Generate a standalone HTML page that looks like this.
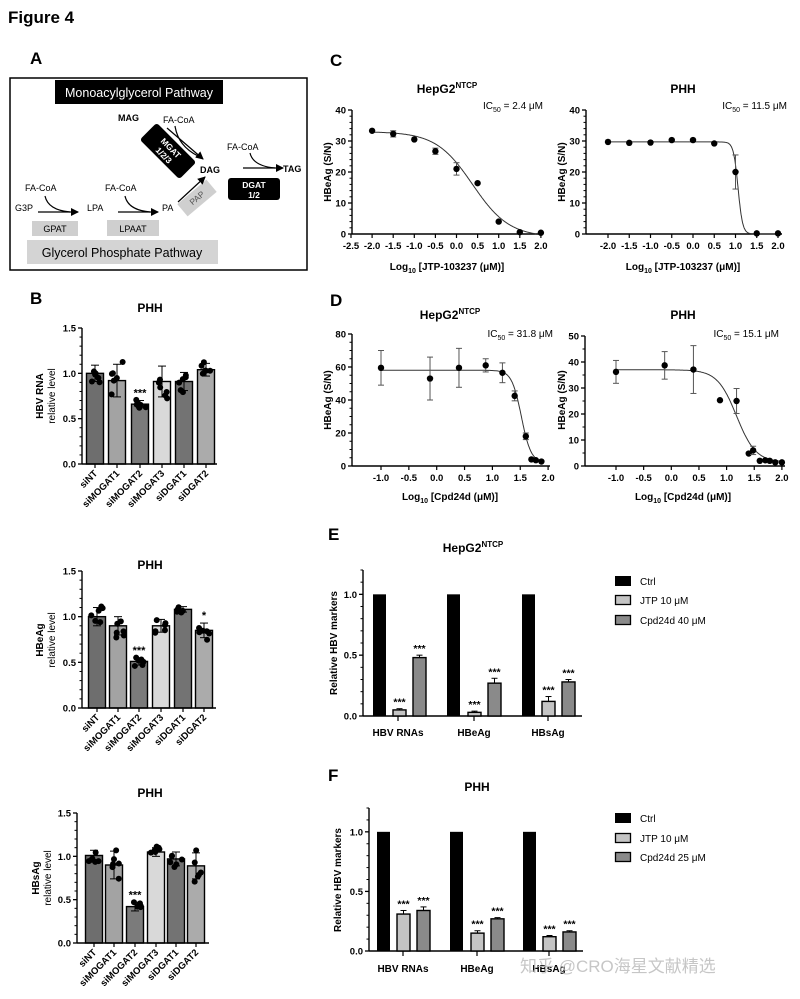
<!DOCTYPE html>
<html><head><meta charset="utf-8"><style>
html,body{margin:0;padding:0;background:#fff;}
svg{display:block;font-family:"Liberation Sans",Arial,sans-serif;}
.b{font-weight:bold;}
</style></head><body>
<svg id="s" width="800" height="999" viewBox="0 0 800 999" xmlns="http://www.w3.org/2000/svg">
<rect width="800" height="999" fill="#fff"/>
<text x="8" y="23" class="b" font-size="17">Figure 4</text>
<!-- Panel A -->
<text x="30" y="64" class="b" font-size="17">A</text>
<rect x="10" y="78" width="297" height="192" fill="none" stroke="#000" stroke-width="1.5"/>
<rect x="55" y="80" width="168" height="24" fill="#000"/>
<text x="139" y="97" font-size="12.5" fill="#fff" text-anchor="middle">Monoacylglycerol Pathway</text>
<rect x="27" y="240" width="191" height="24" fill="#d4d4d4"/>
<text x="122" y="257" font-size="12.5" text-anchor="middle">Glycerol Phosphate Pathway</text>
<text x="118" y="121" class="b" font-size="9">MAG</text>
<text x="163" y="123" font-size="9">FA-CoA</text>
<g transform="translate(168,151) rotate(45)"><rect x="-28" y="-12" width="56" height="24" rx="3" fill="#000"/>
<text x="0" y="-1" class="b" font-size="8.5" fill="#fff" text-anchor="middle">MGAT</text><text x="0" y="9" class="b" font-size="8.5" fill="#fff" text-anchor="middle">1/2/3</text></g>
<text x="200" y="173" class="b" font-size="9">DAG</text>
<text x="227" y="150" font-size="9">FA-CoA</text>
<text x="283" y="172" class="b" font-size="9">TAG</text>
<rect x="228" y="178" width="52" height="22" rx="3" fill="#000"/>
<text x="254" y="188" class="b" font-size="8.5" fill="#fff" text-anchor="middle">DGAT</text>
<text x="254" y="198" class="b" font-size="8.5" fill="#fff" text-anchor="middle">1/2</text>
<text x="25" y="191" font-size="9">FA-CoA</text>
<text x="15" y="211" font-size="9">G3P</text>
<text x="87" y="211" font-size="9">LPA</text>
<text x="105" y="191" font-size="9">FA-CoA</text>
<text x="162" y="211" font-size="9">PA</text>
<rect x="32" y="221" width="46" height="15" fill="#cfcfcf"/>
<text x="55" y="232" font-size="9" text-anchor="middle">GPAT</text>
<rect x="107" y="220" width="52" height="16" fill="#cfcfcf"/>
<text x="133" y="232" font-size="9" text-anchor="middle">LPAAT</text>
<g transform="translate(197,198) rotate(-40)"><rect x="-19" y="-8" width="38" height="16" fill="#cfcfcf"/>
<text x="0" y="3" font-size="8.5" fill="#555" text-anchor="middle">PAP</text></g>
<defs><marker id="ah" markerWidth="8" markerHeight="8" refX="7" refY="4" orient="auto" markerUnits="userSpaceOnUse"><path d="M0,0 L8,4 L0,8 z" fill="#000"/></marker></defs>
<g stroke="#000" stroke-width="1.2" fill="none">
<line x1="38" y1="212" x2="78" y2="212" marker-end="url(#ah)"/>
<path d="M45,196 Q48,210 70,212"/>
<line x1="118" y1="212" x2="158" y2="212" marker-end="url(#ah)"/>
<path d="M125,196 Q128,210 150,212"/>
<line x1="178" y1="202" x2="205" y2="177" marker-end="url(#ah)"/>
<line x1="167" y1="128" x2="203" y2="159" marker-end="url(#ah)"/>
<path d="M175,126 Q178,146 198,156"/>
<line x1="243" y1="168" x2="283" y2="168" marker-end="url(#ah)"/>
<path d="M250,153 Q253,166 275,168"/>
</g>
<!-- Panel B -->
<text x="30" y="304" class="b" font-size="17">B</text>
<text x="150" y="312" class="b" font-size="12" text-anchor="middle">PHH</text>
<g transform="translate(43,396) rotate(-90)"><text x="0" y="0" class="b" font-size="10" text-anchor="middle">HBV RNA</text><text x="0" y="12" font-size="10" text-anchor="middle">relative level</text></g>
<text x="150" y="569" class="b" font-size="12" text-anchor="middle">PHH</text>
<g transform="translate(43,640) rotate(-90)"><text x="0" y="0" class="b" font-size="10" text-anchor="middle">HBeAg</text><text x="0" y="12" font-size="10" text-anchor="middle">relative level</text></g>
<text x="150" y="797" class="b" font-size="12" text-anchor="middle">PHH</text>
<g transform="translate(39,878) rotate(-90)"><text x="0" y="0" class="b" font-size="10" text-anchor="middle">HBsAg</text><text x="0" y="12" font-size="10" text-anchor="middle">relative level</text></g>
<g id="bl" font-size="9.5" class="b" text-anchor="end"></g>
<!-- Panel C -->
<text x="330" y="66" class="b" font-size="17">C</text>
<text x="447" y="93" class="b" font-size="12" text-anchor="middle">HepG2<tspan font-size="8" dy="-5">NTCP</tspan></text>
<text x="543" y="109" font-size="10" text-anchor="end">IC<tspan font-size="7" dy="3">50</tspan><tspan dy="-3"> = 2.4 μM</tspan></text>
<text x="683" y="93" class="b" font-size="12" text-anchor="middle">PHH</text>
<text x="787" y="109" font-size="10" text-anchor="end">IC<tspan font-size="7" dy="3">50</tspan><tspan dy="-3"> = 11.5 μM</tspan></text>
<text x="447" y="270" class="b" font-size="10" text-anchor="middle">Log<tspan font-size="7" dy="3">10</tspan><tspan dy="-3"> [JTP-103237 (μM)]</tspan></text>
<text x="683" y="270" class="b" font-size="10" text-anchor="middle">Log<tspan font-size="7" dy="3">10</tspan><tspan dy="-3"> [JTP-103237 (μM)]</tspan></text>
<text transform="translate(331,172) rotate(-90)" class="b" font-size="10" text-anchor="middle">HBeAg (S/N)</text>
<text transform="translate(565,172) rotate(-90)" class="b" font-size="10" text-anchor="middle">HBeAg (S/N)</text>
<!-- Panel D -->
<text x="330" y="306" class="b" font-size="17">D</text>
<text x="450" y="319" class="b" font-size="12" text-anchor="middle">HepG2<tspan font-size="8" dy="-5">NTCP</tspan></text>
<text x="553" y="337" font-size="10" text-anchor="end">IC<tspan font-size="7" dy="3">50</tspan><tspan dy="-3"> = 31.8 μM</tspan></text>
<text x="683" y="319" class="b" font-size="12" text-anchor="middle">PHH</text>
<text x="779" y="337" font-size="10" text-anchor="end">IC<tspan font-size="7" dy="3">50</tspan><tspan dy="-3"> = 15.1 μM</tspan></text>
<text x="450" y="500" class="b" font-size="10" text-anchor="middle">Log<tspan font-size="7" dy="3">10</tspan><tspan dy="-3"> [Cpd24d (μM)]</tspan></text>
<text x="683" y="500" class="b" font-size="10" text-anchor="middle">Log<tspan font-size="7" dy="3">10</tspan><tspan dy="-3"> [Cpd24d (μM)]</tspan></text>
<text transform="translate(331,400) rotate(-90)" class="b" font-size="10" text-anchor="middle">HBeAg (S/N)</text>
<text transform="translate(565,400) rotate(-90)" class="b" font-size="10" text-anchor="middle">HBeAg (S/N)</text>
<!-- Panel E -->
<text x="328" y="540" class="b" font-size="17">E</text>
<text x="473" y="552" class="b" font-size="12" text-anchor="middle">HepG2<tspan font-size="8" dy="-5">NTCP</tspan></text>
<text transform="translate(337,643) rotate(-90)" class="b" font-size="10" text-anchor="middle">Relative HBV markers</text>
<text x="398" y="736" class="b" font-size="10" text-anchor="middle">HBV RNAs</text>
<text x="474" y="736" class="b" font-size="10" text-anchor="middle">HBeAg</text>
<text x="548" y="736" class="b" font-size="10" text-anchor="middle">HBsAg</text>
<rect x="615" y="576" width="16" height="10" fill="#000"/>
<rect x="615.5" y="595.5" width="15" height="9" fill="#c4c4c4" stroke="#000" stroke-width="1.3"/>
<rect x="615.5" y="615.5" width="15" height="9" fill="#8a8a8a" stroke="#000" stroke-width="1.3"/>
<text x="640" y="585" font-size="10">Ctrl</text>
<text x="640" y="604" font-size="10">JTP 10 μM</text>
<text x="640" y="624" font-size="10">Cpd24d 40 μM</text>
<!-- Panel F -->
<text x="328" y="781" class="b" font-size="17">F</text>
<text x="477" y="791" class="b" font-size="12" text-anchor="middle">PHH</text>
<text transform="translate(341,880) rotate(-90)" class="b" font-size="10" text-anchor="middle">Relative HBV markers</text>
<text x="403" y="972" class="b" font-size="10" text-anchor="middle">HBV RNAs</text>
<text x="477" y="972" class="b" font-size="10" text-anchor="middle">HBeAg</text>
<text x="549" y="972" class="b" font-size="10" text-anchor="middle">HBsAg</text>
<rect x="615" y="813" width="16" height="10" fill="#000"/>
<rect x="615.5" y="833.5" width="15" height="9" fill="#c4c4c4" stroke="#000" stroke-width="1.3"/>
<rect x="615.5" y="852.5" width="15" height="9" fill="#8a8a8a" stroke="#000" stroke-width="1.3"/>
<text x="640" y="822" font-size="10">Ctrl</text>
<text x="640" y="842" font-size="10">JTP 10 μM</text>
<text x="640" y="861" font-size="10">Cpd24d 25 μM</text>
<g id="dyn"></g>
<text x="520" y="972" font-size="17" fill="#bdbdbd" opacity="0.85" font-family="'Liberation Sans','Noto Sans CJK SC',sans-serif">知乎 @CRO海星文献精选</text>
</svg>
<script>
var NS="http://www.w3.org/2000/svg",G=document.getElementById("dyn");
function el(t,a,p){var e=document.createElementNS(NS,t);for(var k in a)e.setAttribute(k,a[k]);(p||G).appendChild(e);return e;}
function txt(x,y,s,a){var e=el("text",Object.assign({x:x,y:y,"font-size":9.5,"font-weight":"bold"},a||{}));e.textContent=s;return e;}
function yaxis(x,yb,yt,vmin,vmax,major,labels,minorN,xEnd){
 el("line",{x1:x,y1:yb,x2:x,y2:yt,stroke:"#000","stroke-width":1.4});
 if(xEnd)el("line",{x1:x,y1:yb,x2:xEnd,y2:yb,stroke:"#000","stroke-width":1.4});
 var f=function(v){return yb-(v-vmin)/(vmax-vmin)*(yb-yt);};
 for(var i=0;i<major.length;i++){var y=f(major[i]);el("line",{x1:x-4,y1:y,x2:x,y2:y,stroke:"#000","stroke-width":1.3});txt(x-6,y+3.5,labels[i],{"text-anchor":"end"});
  if(minorN&&i<major.length-1){var st=(major[i+1]-major[i])/minorN;for(var j=1;j<minorN;j++){var yy=f(major[i]+st*j);el("line",{x1:x-2.5,y1:yy,x2:x,y2:yy,stroke:"#000","stroke-width":1});}}}
 return f;}
var seed=7;function rnd(){seed=(seed*9301+49297)%233280;return seed/233280;}
// Panel B
var cols=["#6e6e6e","#a3a3a3","#7b7b7b","#d9d9d9","#737373","#ababab"];
var names=["siNT","siMOGAT1","siMOGAT2","siMOGAT3","siDGAT1","siDGAT2"];
function bchart(ax,yb,yt,cx,w,xEnd,vals,errs,stars){
 var f=yaxis(ax,yb,yt,0,1.5,[0,0.5,1,1.5],["0.0","0.5","1.0","1.5"],5,null);
 for(var i=0;i<6;i++){var c=cx[i],v=vals[i];
  el("rect",{x:c-w/2,y:f(v),width:w,height:yb-f(v),fill:cols[i],stroke:"#000","stroke-width":1.4});
  el("line",{x1:c,y1:f(v+errs[i]),x2:c,y2:f(v-errs[i]),stroke:"#000","stroke-width":1});
  el("line",{x1:c-4,y1:f(v+errs[i]),x2:c+4,y2:f(v+errs[i]),stroke:"#000","stroke-width":1});
  el("line",{x1:c-4,y1:f(v-errs[i]),x2:c+4,y2:f(v-errs[i]),stroke:"#000","stroke-width":1});
  for(var k=0;k<6;k++){var dv=v+(rnd()-0.5)*errs[i]*2.6;el("circle",{cx:c+(rnd()-0.5)*12,cy:f(dv),r:3,fill:"#000"});}
  if(stars[i])txt(c,f(v+errs[i])-4,stars[i],{"text-anchor":"middle","font-size":11});
  el("line",{x1:c,y1:yb,x2:c,y2:yb+4,stroke:"#000","stroke-width":1.2});
  var t=txt(c+3,yb+10,names[i],{"text-anchor":"end","font-size":9.5,transform:"rotate(-45 "+(c+3)+" "+(yb+10)+")"});}
 el("line",{x1:ax,y1:yb,x2:xEnd,y2:yb,stroke:"#000","stroke-width":1.4});}
bchart(82,464,328,[95,117,140,162,184,206],17,217,[1.0,0.92,0.66,0.91,0.91,1.04],[0.09,0.18,0.04,0.17,0.1,0.07],["","","***","","",""]);
bchart(82,708,571,[97,118,139,161,183,204],17,216,[1.0,0.9,0.51,0.9,1.08,0.85],[0.1,0.1,0.04,0.07,0.03,0.08],["","","***","","","*"]);
bchart(77,943,813,[94,114,135,156,176,196],17,209,[1.01,0.9,0.42,1.05,0.97,0.89],[0.06,0.16,0.05,0.05,0.08,0.15],["","","***","","",""]);
// dose response
function dr(ax,yb,yt,ymax,ymaj,minorN,x0,xpu,xticks,xEnd,pts,top,bot,ic,h,cx0,cx1){
 var f=yaxis(ax,yb,yt,0,ymax,ymaj,ymaj.map(String),minorN,xEnd);
 var X=function(v){return x0+(v-xticks[0])*xpu;};
 xticks.forEach(function(v){var x=X(v);el("line",{x1:x,y1:yb,x2:x,y2:yb+4,stroke:"#000","stroke-width":1.2});txt(x,yb+15,v.toFixed(1),{"text-anchor":"middle"});});
 var d="";for(var v=cx0;v<=cx1;v+=0.01){var y=bot+(top-bot)/(1+Math.pow(10,(v-ic)*h));if(y<0)break;d+=(d?"L":"M")+X(v).toFixed(1)+","+f(y).toFixed(1);}
 el("path",{d:d,fill:"none",stroke:"#333","stroke-width":1});
 pts.forEach(function(p){if(p[2]){var a=f(p[1]+p[2]),b=f(p[1]-p[2]),x=X(p[0]);el("line",{x1:x,y1:a,x2:x,y2:b,stroke:"#555","stroke-width":1});el("line",{x1:x-3,y1:a,x2:x+3,y2:a,stroke:"#555"});el("line",{x1:x-3,y1:b,x2:x+3,y2:b,stroke:"#555"});}
  el("circle",{cx:X(p[0]),cy:f(p[1]),r:3.2,fill:"#000"});});}
dr(352,234,110,40,[0,10,20,30,40],5,351,42.2,[-2.5,-2,-1.5,-1,-0.5,0,0.5,1,1.5,2],543,
 [[-2,33.3],[-1.5,32.3,1],[-1,30.5],[-0.5,26.7,1],[0,21,2],[0.5,16.4],[1,4],[1.5,0.6],[2,0.4]],33,-1,0.38,1.0,-2,2);
dr(586,234,110,40,[0,10,20,30,40],5,608,42.5,[-2,-1.5,-1,-0.5,0,0.5,1,1.5,2],782,
 [[-2,29.7],[-1.5,29.4],[-1,29.5],[-0.5,30.3],[0,30.3],[0.5,29.2],[1,20,5.5],[1.5,0.2],[2,0.2]],29.7,0,1.06,8,-2,2);
dr(352,466,334,80,[0,20,40,60,80],4,381,55.7,[-1,-0.5,0,0.5,1,1.5,2],550,
 [[-1,59.5,10.5],[-0.12,53,13],[0.4,59.5,11.8],[0.88,61,4],[1.18,56.5,6],[1.4,42.5,3],[1.6,18,2],[1.7,4],[1.78,3.5],[1.88,2.7]],58,2,1.52,5,-1,1.9);
dr(585,466,336,50,[0,10,20,30,40,50],2,616,55.3,[-1,-0.5,0,0.5,1,1.5,2],785,
 [[-1,36.2,4.4],[-0.12,38.7,5.3],[0.4,37.1,9.2],[0.88,25.3],[1.18,25,4.8],[1.4,4.8],[1.48,6,1.6],[1.6,2],[1.7,2.2],[1.78,2],[1.88,1.4],[2,1.4]],37,1.5,1.18,2.5,-1,2);
// grouped bars
function gb(ax,yb,yt,xEnd,groups,vals,errs,gc){
 var f=yaxis(ax,yb,yt,0,1.2,[0,0.5,1],["0.0","0.5","1.0"],5,xEnd);
 var fl=["#000","#c4c4c4","#8a8a8a"];
 // top minor ticks to 1.2
 [1.1,1.2].forEach(function(v){el("line",{x1:ax-2.5,y1:f(v),x2:ax,y2:f(v),stroke:"#000"});});
 for(var g=0;g<3;g++){for(var k=0;k<3;k++){var x=groups[g][k],v=vals[g][k],w=13;
  el("rect",{x:x,y:f(v),width:w,height:yb-f(v),fill:fl[k],stroke:"#000","stroke-width":k?1.4:0});
  if(k){var e=errs[g][k];el("line",{x1:x+w/2,y1:f(v+e),x2:x+w/2,y2:f(v),stroke:"#000"});el("line",{x1:x+w/2-3,y1:f(v+e),x2:x+w/2+3,y2:f(v+e),stroke:"#000"});
   txt(x+w/2,f(v+e)-3,"***",{"text-anchor":"middle","font-size":10.5});}}
  el("line",{x1:gc[g],y1:yb,x2:gc[g],y2:yb+5,stroke:"#000","stroke-width":1.2});}}
gb(363,716,570,582,[[373,393,413],[447,468,488],[522,542,562]],[[1,0.05,0.48],[1,0.03,0.27],[1,0.12,0.28]],[[0,0.01,0.02],[0,0.01,0.04],[0,0.04,0.02]],[398,474,548]);
gb(369,951,808,583,[[377,397,417],[450,471,491],[523,543,563]],[[1,0.31,0.34],[1,0.15,0.27],[1,0.12,0.16]],[[0,0.03,0.03],[0,0.02,0.01],[0,0.01,0.01]],[403,477,549]);
</script>
</body></html>
